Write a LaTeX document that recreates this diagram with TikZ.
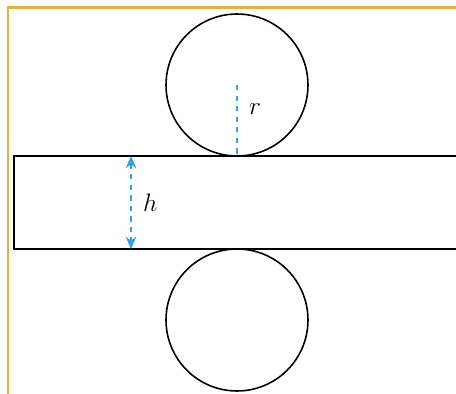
\documentclass[tikz,border=0pt]{standalone}
\usepackage{tikz}
\usetikzlibrary{arrows.meta,positioning}
\definecolor{marco}{HTML}{E3B43C}
\definecolor{cota}{HTML}{2EA3E6}

\begin{document}
\begin{tikzpicture}[x=0.02cm, y=-0.02cm, font=\Large,
  rueda/.style={circle, draw, line width=0.9pt, minimum size=2.84cm, inner sep=0pt},
  medida/.style={cota, dashed, line width=1pt},
  etiqueta/.style={text=black, right=3pt}]
\useasboundingbox (0,0) rectangle (456,394);
\draw[marco, line width=1.7pt] (8,394) -- (8,8) -- (456,8);
\node[rueda] (arriba) at (237,85) {};
\node[rueda] (abajo) at (237,320) {};
\draw[line width=0.9pt] (456,156) -- (14,156) -- (14,249) -- (456,249);
\coordinate (hsup) at (131,156);
\coordinate (hinf) at (131,249);
\draw[medida] (arriba.center) -- (arriba.south) node[etiqueta, pos=0.33]{$r$};
\draw[medida, {Stealth[length=7pt, width=6pt]}-{Stealth[length=7pt, width=6pt]}] (hsup) -- (hinf) node[etiqueta, midway]{$h$};
\end{tikzpicture}
\end{document}
